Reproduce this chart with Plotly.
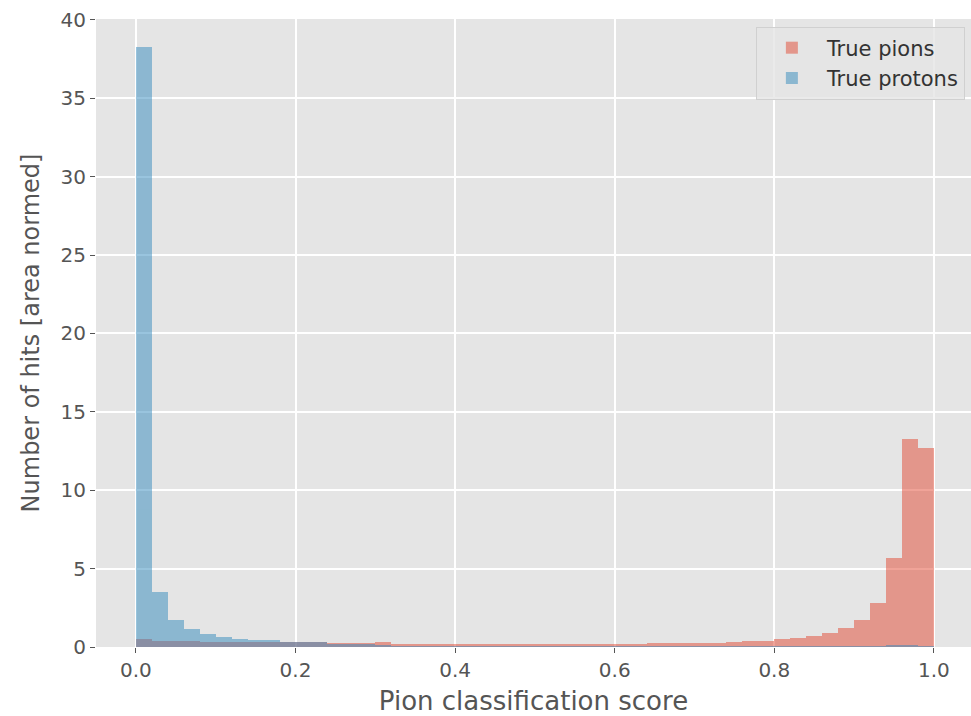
import numpy as np
import plotly.graph_objects as go

# 50 bins of width 0.02 between 0 and 1 (left edges)
bin_width = 0.02
bin_left = [round(i * bin_width, 2) for i in range(50)]

pions = [0.50, 0.38, 0.38, 0.38, 0.30, 0.30, 0.30, 0.30, 0.30, 0.30,
         0.30, 0.30, 0.28, 0.28, 0.28, 0.30, 0.17, 0.17, 0.17, 0.17,
         0.17, 0.17, 0.17, 0.17, 0.17, 0.17, 0.17, 0.17, 0.17, 0.17,
         0.17, 0.17, 0.28, 0.28, 0.28, 0.28, 0.28, 0.32, 0.38, 0.38,
         0.48, 0.57, 0.68, 0.90, 1.20, 1.70, 2.80, 5.70, 13.30, 12.70]

protons = [38.30, 3.52, 1.72, 1.13, 0.83, 0.62, 0.51, 0.45, 0.42, 0.34,
           0.33, 0.32, 0.22, 0.22, 0.20, 0.10, 0.03, 0.03, 0.03, 0.03,
           0.03, 0.03, 0.03, 0.03, 0.03, 0.03, 0.03, 0.03, 0.03, 0.03,
           0.03, 0.03, 0.03, 0.03, 0.03, 0.03, 0.03, 0.03, 0.03, 0.03,
           0.03, 0.03, 0.03, 0.03, 0.03, 0.03, 0.03, 0.15, 0.15, 0.03]

x_ticks = [0.0, 0.2, 0.4, 0.6, 0.8, 1.0]
x_tick_labels = ["0.0", "0.2", "0.4", "0.6", "0.8", "1.0"]
y_ticks = [0, 5, 10, 15, 20, 25, 30, 35, 40]

FONT = "DejaVu Sans"
TXT = "#555555"

fig = go.Figure()
fig.add_trace(go.Bar(x=bin_left, y=pions, width=bin_width, offset=0,
                     name="True pions", marker=dict(color="#E24A33", line=dict(width=0)),
                     opacity=0.5))
fig.add_trace(go.Bar(x=bin_left, y=protons, width=bin_width, offset=0,
                     name="True protons", marker=dict(color="#348ABD", line=dict(width=0)),
                     opacity=0.5))

fig.update_layout(
    width=971, height=716,
    margin=dict(l=96, r=0, t=19, b=69),
    paper_bgcolor="white",
    plot_bgcolor="#E5E5E5",
    barmode="overlay",
    bargap=0,
    font=dict(family=FONT, color=TXT, size=20),
    legend=dict(x=0.993, y=0.988, xanchor="right", yanchor="top",
                bgcolor="rgba(229,229,229,0.8)", bordercolor="#D0D0D0", borderwidth=1,
                font=dict(family=FONT, size=21, color="#333333"),
                itemwidth=60, tracegroupgap=4),
    xaxis=dict(range=[-0.05, 1.0465], tickvals=x_ticks, ticktext=x_tick_labels,
               showgrid=True, gridcolor="white", gridwidth=1.5, zeroline=False,
               ticks="outside", ticklen=5, tickcolor=TXT, tickwidth=1,
               tickfont=dict(family=FONT, size=20, color=TXT),
               title=dict(text="Pion classification score", standoff=11,
                          font=dict(family=FONT, size=26, color=TXT)),
               showline=False),
    yaxis=dict(range=[0, 40.06], tickvals=y_ticks,
               showgrid=True, gridcolor="white", gridwidth=1.5, zeroline=False,
               ticks="outside", ticklen=5, tickcolor=TXT, tickwidth=1,
               tickfont=dict(family=FONT, size=20, color=TXT),
               title=dict(text="Number of hits [area normed]", standoff=14,
                          font=dict(family=FONT, size=24, color=TXT)),
               showline=False),
)

fig.write_html("out.html")
